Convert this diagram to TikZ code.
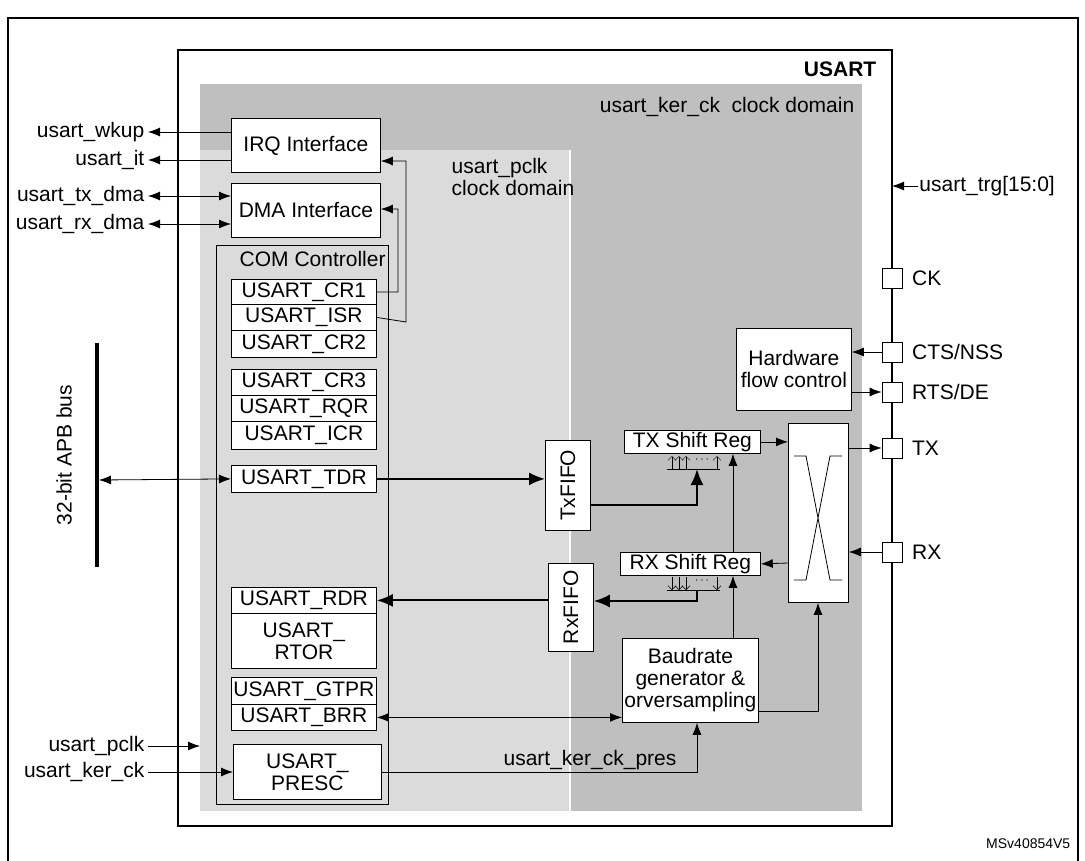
\documentclass[tikz,border=0pt]{standalone}
\usepackage{fontspec}
\setmainfont{Liberation Sans}
\usetikzlibrary{arrows.meta,positioning}

\tikzset{
  box/.style={draw, fill=white, inner sep=1pt, align=center, font=\fontsize{21}{22}\selectfont},
  reg/.style={box, minimum width=145pt, anchor=north west},
  pin/.style={draw, fill=white, minimum size=20pt, inner sep=0pt},
  sig/.style={font=\fontsize{21}{22}\selectfont},
  link/.style={-{Latex[length=12pt,width=9pt]}},
  both/.style={{Latex[length=12pt,width=9pt]}-{Latex[length=12pt,width=9pt]}},
  bus/.style={line width=2pt, -{Latex[length=16pt,width=13pt]}},
}

\begin{document}
\begin{tikzpicture}[x=1pt, y=-1pt, line width=0.8pt]
 \useasboundingbox (0,0) rectangle (1085,860);
 % frames and clock domains
 \draw[line width=1.2pt] (8,18) rectangle (1078,870);
 \draw[line width=1.2pt] (178,50) rectangle (892,826);
 \fill[gray!50] (200,84) rectangle (862,811);
 \fill[gray!28] (200,150) rectangle (570,811);
 \draw[white, line width=2pt] (570,150) -- (570,811);
 \node[sig, anchor=north east, font=\fontsize{21}{22}\selectfont\bfseries] (title) at (880,58) {USART};
 \node[sig, anchor=north east] (kerdom) at (858,94) {usart\_ker\_ck\ \ clock domain};
 \node[sig, anchor=north west, align=left] (pclkdom) at (448,155) {usart\_pclk\\clock domain};

 % interfaces
 \node[box, anchor=north west, minimum width=149pt, minimum height=54pt] (irq) at (231,118) {IRQ Interface};
 \node[box, anchor=north west, minimum width=149pt, minimum height=54pt] (dma) at (231,183) {DMA Interface};

 % COM controller
 \node[draw, anchor=north west, minimum width=172pt, minimum height=559pt] (com) at (216,245) {};
 \node[sig, anchor=north west] (comlbl) at (236,248) {COM Controller};
 \node[reg, minimum height=25pt] (cr1) at (231,279) {USART\_CR1};
 \node[reg, minimum height=26pt] (isr) at (231,304) {USART\_ISR};
 \node[reg, minimum height=27pt] (cr2) at (231,330) {USART\_CR2};
 \node[reg, minimum height=26pt] (cr3) at (231,369) {USART\_CR3};
 \node[reg, minimum height=26pt] (rqr) at (231,395) {USART\_RQR};
 \node[reg, minimum height=28pt] (icr) at (231,421) {USART\_ICR};
 \node[reg, minimum height=27pt] (tdr) at (231,465) {USART\_TDR};
 \node[reg, minimum height=26pt] (rdr) at (231,587) {USART\_RDR};
 \node[reg, minimum height=55pt] (rtor) at (231,613) {USART\_\\RTOR};
 \node[reg, minimum height=27pt] (gtpr) at (231,677) {USART\_GTPR};
 \node[reg, minimum height=26pt] (brr) at (231,704) {USART\_BRR};
 \node[reg, minimum width=148pt, minimum height=55pt] (presc) at (233,744) {USART\_\\PRESC};

 % data path
 \node[box, anchor=north west, minimum width=45pt, minimum height=90pt] (txfifo) at (545,440) {};
 \node[sig, rotate=90] (txlbl) at (txfifo.center) {TxFIFO};
 \node[box, anchor=north west, minimum width=45pt, minimum height=88pt] (rxfifo) at (548,563) {};
 \node[sig, rotate=90] (rxlbl) at (rxfifo.center) {RxFIFO};
 \node[box, anchor=north west, minimum width=136pt, minimum height=23pt] (txsr) at (624,430) {TX Shift Reg};
 \node[box, anchor=north west, minimum width=140pt, minimum height=23pt] (rxsr) at (620,552) {RX Shift Reg};
 \node[box, anchor=north west, minimum width=60pt, minimum height=179pt] (xbar) at (788,423) {};
 \draw (794,456) -- (806,456) -- (830,580) -- (842,580)
       (794,580) -- (806,580) -- (830,456) -- (842,456);
 \node[box, anchor=north west, minimum width=136pt, minimum height=84pt] (baud) at (622,638) {Baudrate\\generator \&\\orversampling};
 \node[box, anchor=north west, minimum width=115pt, minimum height=82pt] (hwfc) at (736,328) {Hardware\\flow control};

 % parallel taps under the shift registers
 \draw (667,469) -- (720,469);
 \foreach \x in {672,679,686,717} \draw[-{Straight Barb[length=4pt]}, line width=0.5pt] (\x,469) -- (\x,456);
 \node[font=\fontsize{12}{12}\selectfont] (txdots) at (702,460) {$\cdots$};
 \draw (667,590) -- (720,590);
 \foreach \x in {672,679,686,717} \draw[-{Straight Barb[length=4pt]}, line width=0.5pt] (\x,577) -- (\x,590);
 \node[font=\fontsize{12}{12}\selectfont] (rxdots) at (702,581) {$\cdots$};
 \coordinate (txtap) at (697,469);
 \coordinate (rxtap) at (697,590);

 % pins
 \draw (892,186) -- (892,826);
 \node[pin] (ck) at (892,278) {};
 \node[pin] (cts) at (892,352) {};
 \node[pin] (rts) at (892,392) {};
 \node[pin] (tx) at (892,448) {};
 \node[pin] (rx) at (892,552) {};
 \node[sig, right=6pt of ck] (cklbl) {CK};
 \node[sig, right=6pt of cts] (ctslbl) {CTS/NSS};
 \node[sig, right=6pt of rts] (rtslbl) {RTS/DE};
 \node[sig, right=6pt of tx] (txpin) {TX};
 \node[sig, right=6pt of rx] (rxpin) {RX};
 \node[sig, anchor=west, inner sep=1pt] (trg) at (918,186) {usart\_trg[15:0]};
 \draw[link] (trg.west) -- (892,186);

 % left signals
 \node[sig, anchor=east] (wkup) at (148,132) {usart\_wkup};
 \node[sig, anchor=east] (it) at (148,160) {usart\_it};
 \node[sig, anchor=east] (txdma) at (148,196) {usart\_tx\_dma};
 \node[sig, anchor=east] (rxdma) at (148,224) {usart\_rx\_dma};
 \node[sig, anchor=east] (pclk) at (148,746) {usart\_pclk};
 \node[sig, anchor=east] (kerck) at (148,772) {usart\_ker\_ck};
 \draw[link] (irq.west |- wkup) -- (wkup.east);
 \draw[link] (irq.west |- it) -- (it.east);
 \draw[both] (dma.west |- txdma) -- (txdma.east);
 \draw[both] (dma.west |- rxdma) -- (rxdma.east);
 \draw[link] (pclk.east) -- (200,746);
 \draw[link] (kerck.east) -- (presc.west |- kerck);

 % APB bus
 \draw[line width=4pt] (97,343) -- (97,567);
 \node[sig, rotate=90] (apb) at (64,455) {32-bit APB bus};
 \draw[both] (99,480) -- (tdr.west);

 % interrupts and DMA requests
 \draw[link] (isr.east) -- (406,322) -- (406,161) -- (irq.east |- 0,161);
 \draw[link] (cr1.east) -- (398,292) -- (398,209) -- (dma.east |- 0,209);

 % data flow
 \draw[bus] (tdr.east) -- (txfifo.west |- tdr.east);
 \draw[bus] (txfifo.east |- 0,505) -- (697,505) -- (txtap);
 \draw[bus] (rxtap) -- (697,601) -- (rxfifo.east |- 0,601);
 \draw[bus] (rxfifo.west |- rdr.east) -- (rdr.east);
 \draw[link] (txsr.east) -- (xbar.west |- txsr.east);
 \draw[link] (xbar.east |- tx) -- (tx.west);
 \draw[link] (rx.west) -- (xbar.east |- rx);
 \draw[link] (xbar.west |- 0,563) -- (rxsr.east);
 \draw[link] (cts.west) -- (hwfc.east |- cts);
 \draw[link] (hwfc.east |- rts) -- (rts.west);
 \draw[link] (733,552) -- (txsr.south -| 733,0);
 \draw[link] (baud.north -| 733,0) -- (rxsr.south -| 733,0);
 \draw[link] (baud.east |- 0,711) -- (818,711) -- (xbar.south -| 818,0);
 \draw[both] (brr.east) -- (baud.west |- brr.east);
 \draw[link] (presc.east |- kerck) -- (697,772) -- (baud.south -| 697,0);
 \node[sig, anchor=south] (pres) at (590,774) {usart\_ker\_ck\_pres};
 \node[anchor=south east, font=\fontsize{14}{15}\selectfont] (ref) at (1074,852) {MSv40854V5};
\end{tikzpicture}
\end{document}
